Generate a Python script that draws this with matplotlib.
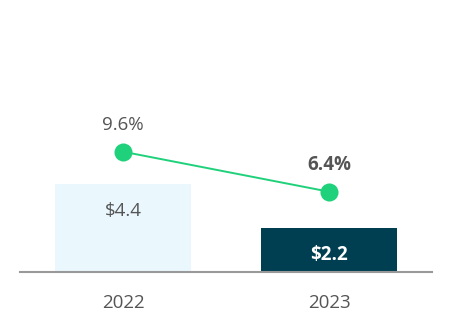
import matplotlib
matplotlib.use("Agg")
import matplotlib.pyplot as plt

years = ["2022", "2023"]
amounts = [4.4, 2.2]
amount_labels = ["$4.4", "$2.2"]
rates = [9.6, 6.4]
rate_labels = ["9.6%", "6.4%"]

plt.rcParams["font.family"] = ["Open Sans", "DejaVu Sans"]

W, H = 452, 332
fig = plt.figure(figsize=(W / 100, H / 100), dpi=100)
left, right, base, top = 20, 432, 271.7, 20
ax = fig.add_axes([left / W, (H - base) / H, (right - left) / W, (base - top) / H])

bar_colors = ["#EAF8FE", "#003F52"]
text_gray = "#555555"
fs = 13.5
x = list(range(len(years)))

bars = ax.bar(x, amounts, width=0.66, color=bar_colors, zorder=1)
ax.set_xlim(-0.5, 1.5)
ax.set_ylim(0, (base - top) / 19.9)

for xi, (b, lab) in enumerate(zip(bars, amount_labels)):
    dark = xi == 1
    ax.annotate(lab, (b.get_x() + b.get_width() / 2, b.get_height()),
                xytext=(0, -19.5), textcoords="offset points",
                ha="center", va="center", fontsize=fs,
                color="white" if dark else text_gray,
                fontweight="bold" if dark else "normal")

ax2 = ax.twinx()
ax2.set_ylim(0, (base - top) / 12.5)
ax2.plot(x, rates, color="#1FD17A", lw=1.4, marker="o", ms=13,
         markerfacecolor="#1FD17A", markeredgewidth=0, zorder=3)
for xi, (r, lab) in enumerate(zip(rates, rate_labels)):
    ax2.annotate(lab, (xi, r), xytext=(0, 19.5), textcoords="offset points",
                 ha="center", va="center", fontsize=fs, color=text_gray,
                 fontweight="bold" if xi == 1 else "normal")

for a in (ax, ax2):
    for s in ("top", "right", "left"):
        a.spines[s].set_visible(False)
    a.set_yticks([])
ax.spines["bottom"].set_color("#999999")
ax.spines["bottom"].set_linewidth(1.5)
ax2.spines["bottom"].set_visible(False)

ax.set_xticks(x)
ax.set_xticklabels(years, fontsize=fs, color=text_gray)
ax.tick_params(axis="x", length=0, pad=16)

fig.savefig("out.png", dpi=100)
